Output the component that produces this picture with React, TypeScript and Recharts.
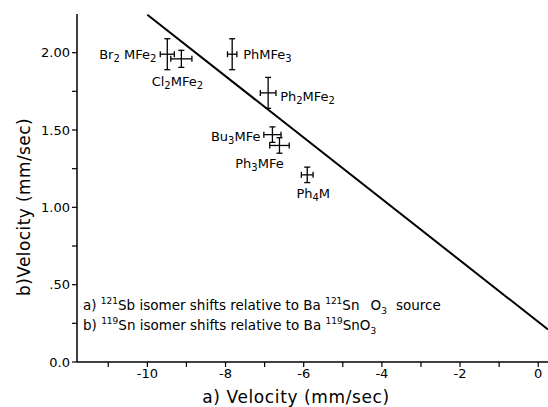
import React from 'react';
import { ScatterChart, Scatter, XAxis, YAxis, ErrorBar, ReferenceLine, Customized } from 'recharts';

const compounds = ['Br2 MFe2', 'Cl2MFe2', 'PhMFe3', 'Ph2MFe2', 'Bu3MFe', 'Ph3MFe', 'Ph4M'];
const sbShift = [-9.49, -9.13, -7.83, -6.91, -6.8, -6.62, -5.91];
const snShift = [1.99, 1.96, 1.99, 1.74, 1.47, 1.4, 1.21];
const sbError = [0.18, 0.27, 0.12, 0.2, 0.22, 0.25, 0.15];
const snError = [0.1, 0.055, 0.1, 0.1, 0.05, 0.05, 0.05];
const fitLine = [
  { x: -10, y: 2.245 },
  { x: 0.25, y: 0.21 },
];
const xTicks = [-11, -10, -9, -8, -7, -6, -5, -4, -3, -2, -1, 0];
const yTicks = [0, 0.25, 0.5, 0.75, 1, 1.25, 1.5, 1.75, 2];
const yTickLabels: Record<string, string> = { '0': '0.0', '0.5': '.50', '1': '1.00', '1.5': '1.50', '2': '2.00' };

const points = compounds.map((name, i) => ({
  name,
  x: sbShift[i],
  y: snShift[i],
  ex: sbError[i],
  ey: snError[i],
}));

const FONT = '"DejaVu Sans", sans-serif';

const labelLayout: Record<string, { dx: number; dy: number; anchor: 'start' | 'middle' | 'end' }> = {
  'Br2 MFe2': { dx: -11, dy: 5, anchor: 'end' },
  Cl2MFe2: { dx: -4, dy: 27, anchor: 'middle' },
  PhMFe3: { dx: 11, dy: 5, anchor: 'start' },
  Ph2MFe2: { dx: 12, dy: 8, anchor: 'start' },
  Bu3MFe: { dx: -12, dy: 6, anchor: 'end' },
  Ph3MFe: { dx: -20, dy: 23, anchor: 'middle' },
  Ph4M: { dx: 6, dy: 23, anchor: 'middle' },
};

function formula(name: string) {
  const tokens = name.match(/\d+|\D+/g) || [];
  let sub = false;
  return tokens.map((t, i) => {
    if (/^\d+$/.test(t)) {
      sub = true;
      return (
        <tspan key={i} dy={3} fontSize={10}>
          {t}
        </tspan>
      );
    }
    const dy = sub ? -3 : 0;
    sub = false;
    return (
      <tspan key={i} dy={dy}>
        {t}
      </tspan>
    );
  });
}

const LabelShape = (props: any) => {
  const { cx, cy, payload } = props;
  const l = labelLayout[payload.name];
  return (
    <text
      x={cx + l.dx}
      y={cy + l.dy}
      textAnchor={l.anchor}
      fontSize={13}
      fontFamily={FONT}
      fill="#000"
    >
      {formula(payload.name)}
    </text>
  );
};

const Sup = ({ t }: { t: string }) => (
  <tspan dy={-6} fontSize={9}>
    {t}
  </tspan>
);

const Annotations = () => (
  <g fontFamily={FONT} fill="#000">
    <text x={83} y={310} fontSize={13.5}>
      <tspan>a) </tspan>
      <Sup t="121" />
      <tspan dy={6}>Sb isomer shifts relative to Ba </tspan>
      <Sup t="121" />
      <tspan dy={6}>Sn</tspan>
      <tspan dx={11}>O</tspan>
      <tspan dy={4} fontSize={9}>3</tspan>
      <tspan dy={-4} dx={9}>source</tspan>
    </text>
    <text x={83} y={330} fontSize={13.5}>
      <tspan>b) </tspan>
      <Sup t="119" />
      <tspan dy={6}>Sn isomer shifts relative to Ba </tspan>
      <Sup t="119" />
      <tspan dy={6}>SnO</tspan>
      <tspan dy={4} fontSize={9}>3</tspan>
    </text>
    <text x={296} y={403} fontSize={17} letterSpacing={0.6} textAnchor="middle">
      a) Velocity (mm/sec)
    </text>
    <text transform="translate(30,207) rotate(-90)" fontSize={17} letterSpacing={0.4} textAnchor="middle">
      b)Velocity (mm/sec)
    </text>
  </g>
);

export default function App() {
  return (
    <div style={{ position: 'absolute', left: 0, top: 0, background: '#fff' }}>
      <ScatterChart width={548} height={407} margin={{ top: 14, right: 0, bottom: 0, left: 0 }}>
        <XAxis
          type="number"
          dataKey="x"
          domain={[-11.8, 0.25]}
          ticks={xTicks}
          interval={0}
          tickFormatter={(v: number) => (v % 2 === 0 ? String(v) : '')}
          height={45}
          axisLine={{ stroke: '#000', strokeWidth: 1.5 }}
          tickLine={{ stroke: '#000', strokeWidth: 1.2 }}
          tickSize={5}
          tick={{ fill: '#000', fontSize: 13, fontFamily: FONT }}
          allowDataOverflow
        />
        <YAxis
          type="number"
          dataKey="y"
          domain={[0, 2.25]}
          ticks={yTicks}
          interval={0}
          tickFormatter={(v: number) => yTickLabels[String(v)] ?? ''}
          width={77}
          axisLine={{ stroke: '#000', strokeWidth: 1.5 }}
          tickLine={{ stroke: '#000', strokeWidth: 1.2 }}
          tickSize={5}
          tick={{ fill: '#000', fontSize: 13, fontFamily: FONT }}
          allowDataOverflow
        />
        <ReferenceLine
          segment={fitLine}
          stroke="#000"
          strokeWidth={2}
          ifOverflow="visible"
        />
        <Scatter data={points} shape={LabelShape} isAnimationActive={false}>
          <ErrorBar dataKey="ex" direction="x" width={3} stroke="#000" strokeWidth={1.3} isAnimationActive={false} />
          <ErrorBar dataKey="ey" direction="y" width={3} stroke="#000" strokeWidth={1.3} isAnimationActive={false} />
        </Scatter>
        <Customized component={Annotations} />
      </ScatterChart>
    </div>
  );
}
